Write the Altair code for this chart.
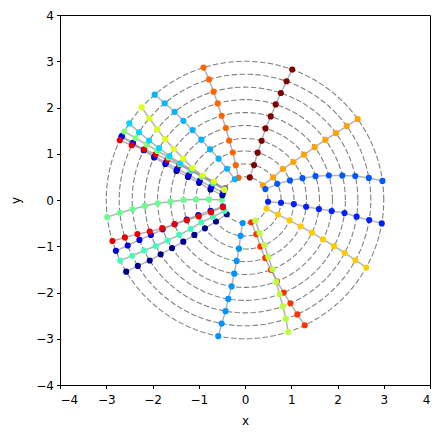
import altair as alt
import numpy as np
import pandas as pd

# radii of the dashed circles / points along each line
radii = [0.5, 0.78, 1.06, 1.33, 1.61, 1.89, 2.17, 2.44, 2.72, 3.0]

# angle (degrees) of each point, inner -> outer, one list per line
ang_A = [78, 75.5, 75, 74.3, 74, 72.9, 72.2, 71.5, 70.7, 70.1]
ang_B = [106.4, 104.9, 104.4, 104.9, 104.9, 105.5, 105.8, 106.2, 106.6, 107.4]
ang_C = [39, 38.8, 39.2, 38.2, 37.5, 37.2, 36.8, 36.3, 36.0, 35.7]
ang_D = [28.1, 26.6, 23.5, 20.8, 18.7, 16.3, 14.1, 12.3, 10.1, 7.9]
ang_E = [-4.3, -4.4, -4.8, -6.3, -7, -7.3, -7.5, -8.5, -9.2, -9.7]
ang_F = [-21.8, -23.9, -24.6, -25.3, -26, -26.8, -27.4, -28, -28.6, -29.1]
ang_G = [-74.5, -71.7, -71.8, -70.8, -69.6, -68.6, -67.3, -66.3, -65.4, -64.5]
ang_H = [-63.4, -66.1, -66.8, -67.7, -68.4, -69.1, -69.9, -70.4, -71, -71.9]
ang_I = [-95.8, -97, -97.1, -97.8, -98.3, -98.8, -99.6, -99.9, -100.7, -101.1]
ang_J = [218, 216.5, 215.3, 214.6, 214, 213.4, 212.8, 212.4, 211.6, 211.1]
ang_K = [208, 207.8, 207, 208, 207.9, 207.6, 207.3, 206.6, 206.3, 205.9]
ang_L = [196.5, 197.3, 197.8, 198.5, 199, 199.6, 200.4, 200.7, 201.2, 201.5]
ang_M = [198.1, 199.7, 199.7, 199.3, 198.9, 198.8, 198.3, 197.6, 197.3, 197.2]
ang_N = [180, 179, 179.5, 180, 181.3, 182.2, 183.4, 184.7, 185.8, 187.1]
ang_O = [168, 163, 159.5, 158, 157, 155.7, 154.9, 153.8, 153, 152.6]
ang_P = [161, 158.5, 157, 156, 155.3, 154.7, 154.2, 153.7, 153.3, 153]
ang_Q = [150, 150.5, 151, 151.5, 152, 152.5, 152.9, 153.3, 154.2, 154.5]
ang_R = [153, 152.3, 151.8, 151.4, 151.1, 150.9, 150.7, 150.6, 150.5, 150.4]
ang_S = [152, 151, 150.5, 150.4, 150.4, 149.8, 148.9, 148.2, 147.4, 146.5]
ang_T = [154, 149.5, 150, 148.8, 146.2, 144.3, 142.7, 141.1, 139.5, 138.1]
ang_U = [116.2, 120, 122.6, 124.6, 125.9, 126.9, 127.9, 128.6, 129.7, 130.6]

line_names = list("ABCDEFGHIJKLMNOPQRSTU")
line_colors = ["#7f0000", "#ff6600", "#ffa300", "#0058ff", "#0020ff", "#ffcc00",
               "#ff3300", "#b8ff40", "#0094ff", "#00008f", "#40ffb8", "#0000e8",
               "#ee0000", "#66ff90", "#000080", "#0000ff", "#e80000", "#80ff78",
               "#00d8ff", "#e0ff18", "#00b4ff"]
angles = [ang_A, ang_B, ang_C, ang_D, ang_E, ang_F, ang_G, ang_H, ang_I, ang_J, ang_K,
          ang_L, ang_M, ang_N, ang_O, ang_P, ang_Q, ang_R, ang_S, ang_T, ang_U]

rows = []
for name, angs in zip(line_names, angles):
    for k, (r, a) in enumerate(zip(radii, angs)):
        t = np.deg2rad(a)
        rows.append({"line": name, "k": k, "x": r * np.cos(t), "y": r * np.sin(t)})
pts = pd.DataFrame(rows)

crows = []
ts = np.linspace(0, 2 * np.pi, 241)
for r in radii:
    for i, t in enumerate(ts):
        crows.append({"r": r, "i": i, "x": r * np.cos(t), "y": r * np.sin(t)})
circ = pd.DataFrame(crows)

xs = alt.Scale(domain=[-4, 4], nice=False, zero=False)
ys = alt.Scale(domain=[-4, 4], nice=False, zero=False)
ticks = [-4, -3, -2, -1, 0, 1, 2, 3, 4]
xax = alt.Axis(values=ticks, title="x", grid=False, format="d", labelPadding=6, titlePadding=10)
yax = alt.Axis(values=ticks, title="y", grid=False, format="d", labelPadding=3, titlePadding=13)

circles = alt.Chart(circ).mark_line(
    color="#808080", strokeWidth=1.1, strokeDash=[5.5, 2.4]
).encode(
    x=alt.X("x:Q", scale=xs, axis=xax),
    y=alt.Y("y:Q", scale=ys, axis=yax),
    detail="r:N",
    order="i:Q",
)

lines = alt.Chart(pts).mark_line(color="#999999", strokeWidth=1.5, opacity=0.75).encode(
    x=alt.X("x:Q", scale=xs),
    y=alt.Y("y:Q", scale=ys),
    detail="line:N",
    order="k:Q",
)

points = alt.Chart(pts).mark_circle(size=38, opacity=1).encode(
    x=alt.X("x:Q", scale=xs),
    y=alt.Y("y:Q", scale=ys),
    color=alt.Color("line:N", scale=alt.Scale(domain=line_names, range=line_colors), legend=None),
)

chart = alt.layer(circles, lines, points).properties(
    width=370, height=370,
    autosize=alt.AutoSizeParams(type="none"),
    padding={"left": 52, "top": 7, "right": 5, "bottom": 45},
).configure_view(
    stroke="black", strokeWidth=1
).configure_axis(
    labelFont="DejaVu Sans", titleFont="DejaVu Sans",
    labelFontSize=12, titleFontSize=12, titleFontWeight="normal",
    labelColor="black", titleColor="black",
    domainColor="black", tickColor="black", tickSize=3.5,
)

chart.save("out.html", embed_options={"renderer": "svg", "actions": False})
